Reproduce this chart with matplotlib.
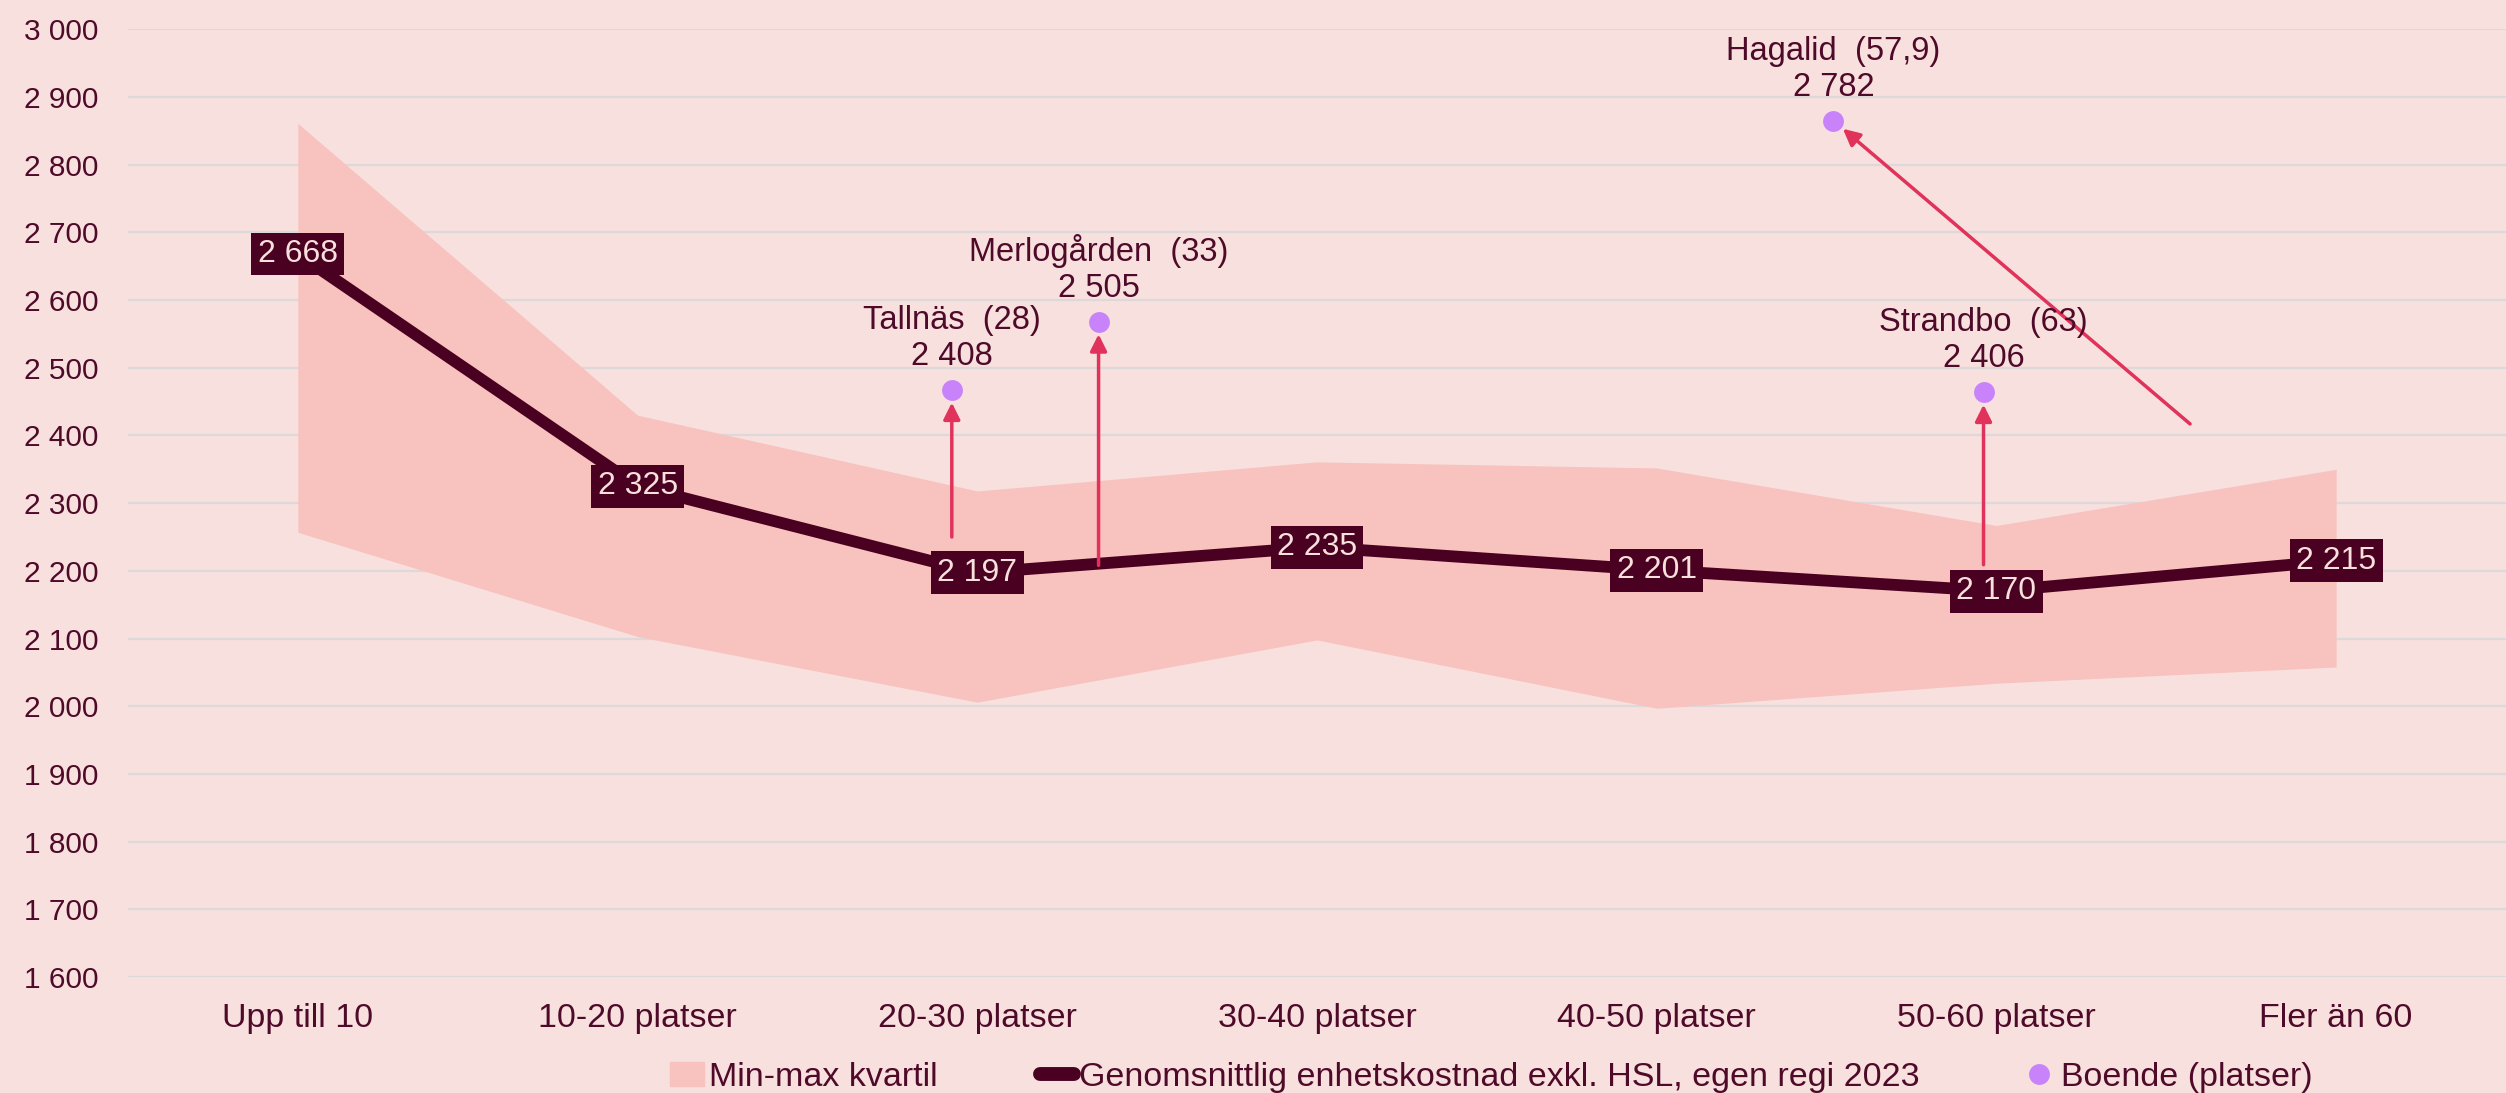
import matplotlib
matplotlib.use("Agg")
import matplotlib.pyplot as plt
from matplotlib.patches import Patch
from matplotlib.lines import Line2D

plt.rcParams['font.family'] = ['Liberation Sans', 'DejaVu Sans']

# data
categories = ["Upp till 10", "10-20 platser", "20-30 platser", "30-40 platser",
              "40-50 platser", "50-60 platser", "Fler än 60"]
band_max = [2861, 2430, 2318, 2361, 2352, 2267, 2350]
band_min = [2257, 2103, 2006, 2098, 1997, 2034, 2058]
avg_cost = [2668, 2325, 2197, 2235, 2201, 2170, 2215]

boende_names = ["Tallnäs  (28)", "Merlogården  (33)", "Strandbo  (63)", "Hagalid  (57,9)"]
boende_values = ["2 408", "2 505", "2 406", "2 782"]
boende_x = [1.925, 2.357, 4.962, 4.52]
boende_y = [2467, 2568, 2464, 2865]
arrow_from_x = [1.925, 2.357, 4.962, 5.57]
arrow_from_y = [2250, 2208, 2209, 2417]

bg = "#F7E0DD"
band_col = "#F8C2BF"
line_col = "#4A0020"
text_col = "#4F0A2A"
dot_col = "#C882FA"
arrow_col = "#E0325A"
grid_col = "#DDD9DB"

fig = plt.figure(figsize=(25.06, 10.93), dpi=100)
fig.patch.set_facecolor(bg)
ax = fig.add_axes([128/2506, 1-977/1093, 1-128/2506, (977-29.3)/1093])
ax.set_facecolor(bg)

x = list(range(len(categories)))
ax.fill_between(x, band_min, band_max, color=band_col, lw=0, zorder=1)
ax.plot(x, avg_cost, color=line_col, lw=8.5, zorder=3, solid_capstyle='butt')

for xi, v in zip(x, avg_cost):
    ax.text(xi, v, f"{v:,}".replace(",", " "), ha='center', va='center',
            fontsize=23, color="#F8E0DC", zorder=5,
            bbox=dict(boxstyle='square,pad=0.2', fc=line_col, ec='none'))

for i in range(len(boende_names)):
    ax.annotate('', xy=(boende_x[i], boende_y[i]),
                xytext=(arrow_from_x[i], arrow_from_y[i]),
                arrowprops=dict(arrowstyle='-|>', color=arrow_col, lw=2.5,
                                mutation_scale=25, shrinkA=0, shrinkB=9),
                zorder=4)
    ax.annotate(boende_names[i] + "\n" + boende_values[i],
                xy=(boende_x[i], boende_y[i]), xytext=(0, 13),
                textcoords='offset points', ha='center', va='bottom',
                fontsize=23.5, color=text_col, linespacing=1.2, zorder=6)
ax.plot(boende_x, boende_y, 'o', color=dot_col, ms=15, mec='none', zorder=6)

ax.set_xlim(-0.5, 6.5)
ax.set_ylim(1600, 3000)
ax.set_yticks(range(1600, 3001, 100))
ax.set_yticklabels([f"{v:,}".replace(",", " ") for v in range(1600, 3001, 100)])
ax.set_xticks(x)
ax.set_xticklabels(categories)
ax.tick_params(axis='both', length=0, labelcolor=text_col)
ax.tick_params(axis='y', pad=21, labelsize=21.5)
ax.tick_params(axis='x', pad=19, labelsize=24.5)
ax.grid(axis='y', color=grid_col, lw=1.5, zorder=0)
ax.set_axisbelow(True)
for s in ax.spines.values():
    s.set_visible(False)

handles = [Patch(color=band_col, label="Min-max kvartil"),
           Line2D([], [], color=line_col, lw=10, solid_capstyle='round',
                  label="Genomsnittlig enhetskostnad exkl. HSL, egen regi 2023"),
           Line2D([], [], marker='o', ls='none', color=dot_col, ms=15, mec='none',
                  label="Boende (platser)")]
fig.legend(handles=handles, loc='center', bbox_to_anchor=(0.595, 0.014), ncol=3,
           frameon=False, fontsize=24.5, labelcolor=text_col, handlelength=1.0,
           handletextpad=0.15, columnspacing=3.0)

fig.savefig("out.png", dpi=100, facecolor=bg)
